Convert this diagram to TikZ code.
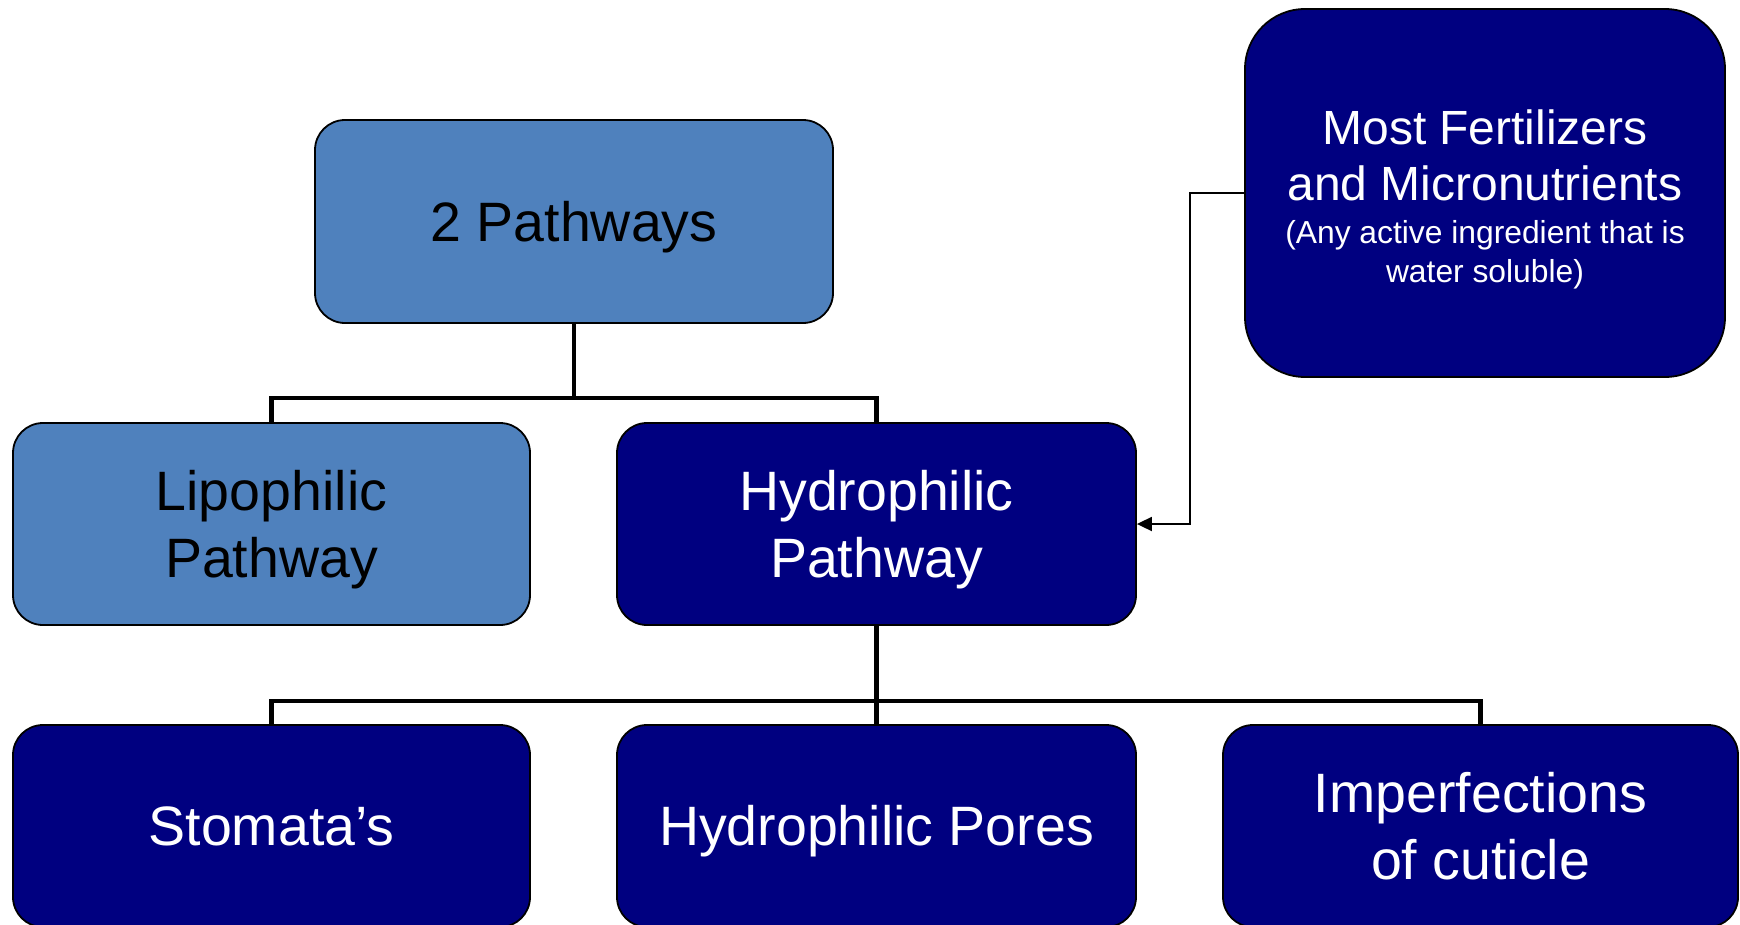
\documentclass[tikz,border=0pt]{standalone}
\usepackage{fontspec}
\setmainfont{Liberation Sans}
\usetikzlibrary{arrows.meta,calc}
\definecolor{lightbox}{HTML}{4F81BD}
\definecolor{navybox}{HTML}{000080}
\newcommand\capstrut{\rule{0pt}{54.7pt}}
\newcommand\bottomstrut{\rule[-15pt]{0pt}{0pt}}
\newcommand\fertstrut{\rule{0pt}{55.4pt}}
\begin{document}
\begin{tikzpicture}[x=1pt,y=-1pt,
  base/.style={draw=black,line width=1.8pt,rounded corners=30pt,align=center,inner sep=0pt,
    minimum height=202pt,font=\fontsize{55.5}{67}\selectfont},
  lightnode/.style={base,fill=lightbox,text=black},
  darknode/.style={base,fill=navybox,text=white},
  tree/.style={line width=4.6pt,draw=black},
  feed/.style={line width=1.8pt,draw=black,-{Triangle[length=15pt,width=14pt]}}]
\useasboundingbox (0,0) rectangle (1740,924);
\fill[white] (0,0) rectangle (1740,924);
\node[lightnode,minimum width=518pt,minimum height=203pt] (top) at (574,221.5) {\capstrut 2 Pathways\bottomstrut};
\node[lightnode,minimum width=517pt] (lip) at (271.5,524) {\capstrut Lipophilic\\Pathway\bottomstrut};
\node[darknode,minimum width=519pt] (hyd) at (876.5,524) {\capstrut Hydrophilic\\Pathway\bottomstrut};
\node[darknode,minimum width=480pt,minimum height=368pt,rounded corners=60pt,
  font=\fontsize{48}{58}\selectfont] (fert) at (1485,193)
  {\fertstrut Most Fertilizers\\[-2pt]and Micronutrients\\[-15pt]
   \fontsize{31.8}{37}\selectfont (Any active ingredient that is\\[-19pt]
   \fontsize{31.8}{37}\selectfont water soluble)\bottomstrut};
\node[darknode,minimum width=517pt] (sto) at (271.5,826) {\capstrut Stomata’s\bottomstrut};
\node[darknode,minimum width=519pt] (por) at (876.5,826) {\capstrut Hydrophilic Pores\bottomstrut};
\node[darknode,minimum width=515pt] (imp) at (1480.5,826) {\capstrut Imperfections\\of cuticle\bottomstrut};
\coordinate (bar1) at (574,398);
\coordinate (bar2) at (876.5,701);
\coordinate (bend1) at (1190,193);
\coordinate (bend2) at (1190,524);
\draw[tree] (top.south) -- (bar1) -| (lip.north);
\draw[tree] (bar1) -| (hyd.north);
\draw[tree] (hyd.south) -- (bar2) -| (sto.north);
\draw[tree] (bar2) -- (por.north);
\draw[tree] (bar2) -| (imp.north);
\draw[feed] (fert.west) -- (bend1) -- (bend2) -- (hyd.east);
\end{tikzpicture}
\end{document}
